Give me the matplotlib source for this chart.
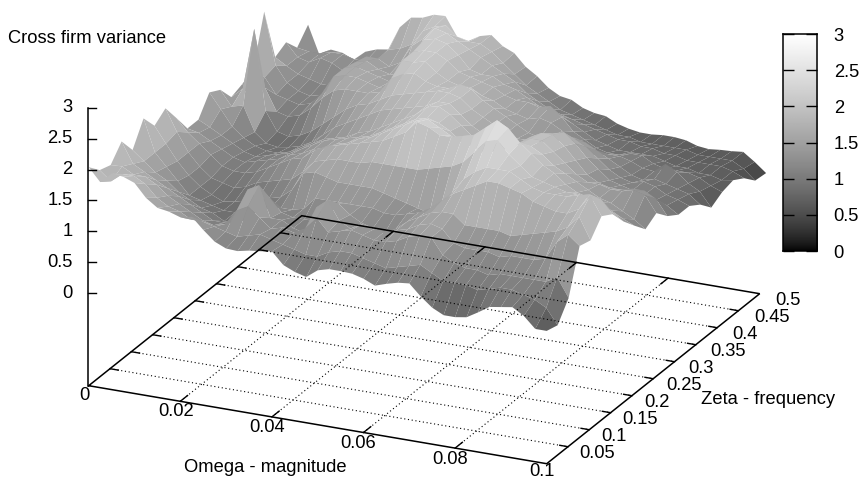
import numpy as np
import matplotlib
matplotlib.use("Agg")
import matplotlib.pyplot as plt
import matplotlib.colors as mcolors
from matplotlib.collections import PolyCollection

plt.rcParams['font.family'] = ['Liberation Sans', 'DejaVu Sans']

# z values: one list per zeta row (front to back), 41 omega samples each
r00 = [2.04,1.83,2.0,1.98,1.91,1.7,1.57,1.54,1.48,1.52,1.34,1.18,1.1,1.09,1.13,1.15,1.18,.99,.91,.86,1.0,1.05,1.05,1.04,.99,.91,.97,1.02,1.04,.86,.71,.62,.62,.65,.76,.88,.91,.94,.83,.65,.65]
r01 = [1.85,1.7,1.85,1.85,1.75,1.56,1.45,1.4,1.3,1.3,1.25,1.2,1.15,1.2,1.25,1.2,1.15,1.1,1.05,1.05,1.15,1.2,1.2,1.15,1.1,1.05,1.1,1.15,1.2,1.1,1.0,1.0,1.0,.95,1.0,1.05,1.05,1.0,.95,.85,.6]
r02 = [1.79,1.8,1.7,1.7,1.6,1.45,1.35,1.25,1.15,1.1,1.15,1.4,1.5,1.35,1.2,1.25,1.2,1.3,1.5,1.3,1.35,1.4,1.35,1.3,1.3,1.35,1.45,1.5,1.5,1.25,1.15,1.1,1.1,1.05,1.1,1.1,1.1,1.1,1.1,1.2,.9]
r03 = [2.03,1.7,1.6,1.5,1.4,1.3,1.2,1.1,1.0,1.0,1.05,1.6,1.7,1.2,1.2,1.1,1.05,1.5,1.65,1.35,1.25,1.35,1.3,1.3,1.35,1.4,1.5,1.55,1.5,1.3,1.25,1.25,1.25,1.2,1.25,1.25,1.25,1.3,1.6,1.75,1.6]
r04 = [1.75,1.6,1.45,1.35,1.2,1.1,1.0,.95,.85,.85,.95,1.3,1.35,1.15,1.1,1.1,1.1,1.2,1.45,1.3,1.2,1.15,1.1,1.2,1.35,1.45,1.55,1.6,1.6,1.45,1.45,1.45,1.45,1.4,1.45,1.5,1.55,1.6,1.7,1.9,1.55]
r05 = [2.12,1.6,1.4,1.2,1.0,.95,.9,.85,.85,.9,.95,1.0,1.05,1.05,1.1,1.3,1.3,1.3,1.3,1.3,1.3,1.25,1.25,1.3,1.35,1.45,1.6,1.75,1.85,1.95,2.05,2.05,2.0,1.95,1.85,1.8,1.75,1.75,1.85,2.1,1.8]
r06 = [1.86,1.6,1.35,1.15,1.0,.9,.82,.85,.9,.95,1.0,1.05,1.2,1.5,1.55,1.5,1.45,1.45,1.45,1.45,1.4,1.35,1.3,1.25,1.2,1.35,1.6,1.85,2.0,2.1,2.1,2.1,2.0,1.9,1.85,1.85,1.85,1.9,1.95,1.9,1.69]
r07 = [2.0,1.65,1.35,1.15,1.0,.95,.9,.95,1.05,1.1,1.15,1.2,1.35,1.55,1.6,1.65,1.65,1.65,1.7,1.7,1.7,1.7,1.7,1.75,1.8,1.85,1.95,2.15,2.35,2.4,2.2,2.05,1.9,1.85,1.8,1.75,1.75,1.7,1.65,1.55,1.43]
r08 = [1.7,1.5,1.35,1.2,1.05,1.0,1.0,1.05,1.15,1.25,1.35,1.4,1.55,1.65,1.7,1.75,1.8,1.85,1.9,2.0,2.1,2.3,2.25,2.15,2.15,2.2,2.25,2.4,2.55,2.45,2.25,2.1,1.95,1.85,1.7,1.6,1.55,1.5,1.4,1.3,1.22]
r09 = [1.39,1.35,1.25,1.15,1.05,1.0,1.05,1.1,1.15,1.25,1.3,1.4,1.45,1.55,1.6,1.7,1.75,1.85,1.95,2.05,2.15,2.2,2.1,2.0,1.95,1.95,1.95,2.0,2.05,2.05,2.05,1.95,1.8,1.7,1.6,1.5,1.4,1.35,1.25,1.15,1.02]
r10 = [1.39,1.3,1.2,1.1,1.0,.95,1.0,1.05,1.1,1.2,1.3,1.4,1.45,1.5,1.55,1.6,1.7,1.8,1.9,2.0,2.05,2.0,1.9,1.75,1.7,1.65,1.7,1.8,1.9,2.0,2.0,1.85,1.7,1.55,1.45,1.45,1.4,1.4,1.45,1.4,1.14]
r11 = [1.69,1.45,1.2,1.05,.95,.9,.9,.95,1.05,1.15,1.25,1.3,1.35,1.45,1.5,1.6,1.7,1.8,1.9,2.05,2.1,2.0,1.85,1.7,1.55,1.55,1.6,1.7,1.85,1.95,1.95,1.8,1.6,1.4,1.3,1.25,1.25,1.3,1.3,1.2,.95]
r12 = [1.59,1.35,1.4,1.0,.85,.82,.85,.9,1.0,1.15,1.3,1.4,1.5,1.6,1.7,1.75,1.8,1.85,1.9,2.0,2.0,1.85,1.7,1.6,1.55,1.55,1.55,1.6,1.7,1.8,1.85,1.7,1.5,1.35,1.2,1.15,1.1,1.05,1.0,.95,.83]
r13 = [1.33,1.5,2.5,1.2,.9,.85,.9,1.0,1.15,1.3,1.45,1.55,1.6,1.7,1.8,1.85,1.9,1.95,2.0,2.0,1.95,1.8,1.7,1.6,1.5,1.45,1.45,1.45,1.5,1.55,1.6,1.5,1.35,1.2,1.1,1.05,1.1,1.05,.95,.9,.83]
r14 = [1.4,1.2,1.4,1.05,1.0,1.05,1.2,1.4,1.55,1.6,1.6,1.6,1.65,1.9,2.0,2.05,1.95,1.9,1.9,2.0,1.95,1.8,1.7,1.6,1.5,1.4,1.35,1.4,1.45,1.45,1.4,1.3,1.2,1.1,1.0,.95,1.0,.95,.9,.85,.71]
r15 = [1.5,1.4,1.15,1.1,1.05,1.1,1.3,1.6,1.65,1.65,1.6,1.55,1.55,2.05,2.05,2.1,1.95,1.85,1.8,1.8,1.7,1.65,1.55,1.5,1.45,1.5,1.45,1.35,1.2,1.05,1.05,1.1,1.1,1.05,.97,.95,1.1,1.0,.85,.75,.52]
r16 = [2.29,1.45,1.2,1.1,1.05,1.1,1.3,1.6,1.65,1.6,1.55,1.5,1.6,2.05,2.1,2.1,2.0,1.85,1.8,1.75,1.7,1.6,1.55,1.55,1.5,1.55,1.4,1.2,1.1,1.0,.95,.95,1.0,1.0,.9,.85,.85,.85,.8,.7,.63]
r17 = [1.41,1.3,1.2,1.15,1.1,1.1,1.25,1.55,1.6,1.5,1.45,1.45,1.7,2.1,2.15,2.1,1.95,1.75,1.7,1.7,1.6,1.55,1.45,1.35,1.3,1.25,1.15,1.05,.95,.9,.85,.85,.85,.85,.8,.75,.75,.7,.7,.65,.68]
r18 = [1.51,1.3,1.25,1.35,1.3,1.2,1.2,1.5,1.5,1.4,1.5,1.8,1.95,2.15,2.1,2.0,1.9,1.8,1.7,1.6,1.5,1.35,1.25,1.15,1.1,1.05,1.0,.95,.9,.85,.85,.8,.8,.75,.75,.7,.7,.7,.7,.65,.57]
r19 = [1.28,1.25,1.25,1.3,1.3,1.25,1.25,1.3,1.5,1.55,1.65,1.9,2.0,2.05,1.9,1.85,1.85,1.75,1.6,1.45,1.3,1.2,1.1,1.0,.95,.9,.85,.8,.75,.75,.7,.7,.7,.7,.7,.65,.65,.65,.65,.55,.39]
r20 = [1.51,1.05,1.17,1.15,1.07,1.23,1.3,1.33,1.72,1.91,1.94,2.02,2.03,1.73,1.69,1.8,1.85,1.7,1.62,1.43,1.31,1.15,1.05,1.02,.92,.87,.85,.76,.71,.68,.68,.7,.7,.68,.62,.6,.62,.63,.65,.52,.37]

omega_step = 0.0025
zeta_step = 0.02575
omega_ticks = [0, 0.02, 0.04, 0.06, 0.08, 0.1]
zeta_ticks = [0, 0.05, 0.1, 0.15, 0.2, 0.25, 0.3, 0.35, 0.4, 0.45, 0.5]
z_ticks = [0, 0.5, 1, 1.5, 2, 2.5, 3]
FS = 13.2


def project(omega, zeta, z):
    w = np.asarray(omega) / 0.1
    n = np.asarray(zeta) / 0.5
    return 88.7 + 458 * w + 213 * n, 293 + 78 * w - 170 * n - 61.7 * np.asarray(z)


def base(omega, zeta):
    return project(omega, zeta, -92.7 / 61.7)


Z = np.array([r00, r01, r02, r03, r04, r05, r06, r07, r08, r09, r10,
              r11, r12, r13, r14, r15, r16, r17, r18, r19, r20])
rows, cols = Z.shape
omega = np.arange(cols) * omega_step
zeta = np.arange(rows) * zeta_step
O, S = np.meshgrid(omega, zeta)
X, Y = project(O, S, Z)

fig = plt.figure(figsize=(8.6, 4.79), dpi=100)
ax = fig.add_axes([0, 0, 1, 1])
ax.set_xlim(0, 860)
ax.set_ylim(479, 0)
ax.axis('off')

norm = mcolors.PowerNorm(gamma=1 / 1.5, vmin=0, vmax=3, clip=True)
cmap = plt.get_cmap('gray')

polys, vals, depth = [], [], []
for j in range(rows - 1):
    for i in range(cols - 1):
        polys.append([(X[j, i], Y[j, i]), (X[j, i + 1], Y[j, i + 1]),
                      (X[j + 1, i + 1], Y[j + 1, i + 1]), (X[j + 1, i], Y[j + 1, i])])
        vals.append(Z[j:j + 2, i:i + 2].mean())
        depth.append(78 * (i + .5) / (cols - 1) - 170 * (j + .5) / (rows - 1))
order = np.argsort(depth)
pc = PolyCollection([polys[k] for k in order], array=np.array(vals)[order],
                    cmap=cmap, norm=norm, edgecolors='none', linewidths=0,
                    antialiaseds=True, zorder=2)
ax.add_collection(pc)

# base plane
ls_dot = (0, (1, 2.4))
kw_grid = dict(color='black', lw=0.8, ls=ls_dot, zorder=3)
for o in omega_ticks[1:-1]:
    bx, by = base(np.array([o, o]), np.array([0, 0.5]))
    ax.plot(bx, by, **kw_grid)
for s in zeta_ticks[1:-1]:
    bx, by = base(np.array([0, 0.1]), np.array([s, s]))
    ax.plot(bx, by, **kw_grid)
cx, cy = base(np.array([0, 0.1, 0.1, 0, 0]), np.array([0, 0, 0.5, 0.5, 0]))
ax.plot(cx, cy, color='black', lw=1.1, zorder=4, solid_joinstyle='miter')

kw_tick = dict(color='black', lw=1.0, zorder=4)
for o in omega_ticks[1:-1]:
    bx, by = base(np.array([o, o]), np.array([0, 0.017]))
    ax.plot(bx, by, **kw_tick)
    bx, by = base(np.array([o, o]), np.array([0.5, 0.483]))
    ax.plot(bx, by, **kw_tick)
for s in zeta_ticks[1:-1]:
    bx, by = base(np.array([0, 0.0018]), np.array([s, s]))
    ax.plot(bx, by, **kw_tick)
    bx, by = base(np.array([0.1, 0.0982]), np.array([s, s]))
    ax.plot(bx, by, **kw_tick)

# vertical z axis
zx, zy = project(0, 0, np.array(z_ticks))
ax.plot([88, 88], [108, 385.7], color='black', lw=1.1, zorder=4)
for yy, t in zip(zy, z_ticks):
    ax.plot([88, 96], [yy, yy], **kw_tick)
    ax.text(72.5, yy, f'{t:g}', ha='right', va='center', fontsize=FS, color='black')

# tick labels
for o, c in zip(omega_ticks, [(84, 396), (176, 411), (267, 427), (358, 444), (450, 459), (542, 471)]):
    ax.text(c[0], c[1], f'{o:g}', ha='center', va='center', fontsize=FS, color='black')
for k, s in enumerate(zeta_ticks[1:]):
    bx, by = base(0.1, s)
    ax.text(bx + 11 + 0.55 * k, by + 7, f'{s:g}', ha='left', va='center', fontsize=FS, color='black')

ax.text(8, 38, 'Cross firm variance', ha='left', va='center', fontsize=FS, color='black')
ax.text(184, 468, 'Omega - magnitude', ha='left', va='center', fontsize=FS, color='black')
ax.text(701, 400, 'Zeta - frequency', ha='left', va='center', fontsize=FS, color='black')

# colour box with a linear value axis
W, H = 860.0, 479.0
cax = fig.add_axes([782.7 / W, 1 - 251 / H, (817 - 782.7) / W, (251 - 34) / H])
grad = np.linspace(0, 3, 256).reshape(-1, 1)
cax.imshow(grad, origin='lower', extent=[0, 1, 0, 3], aspect='auto', cmap=cmap, norm=norm)
cax.set_xticks([])
cax.yaxis.tick_right()
cax.set_yticks(z_ticks)
cax.set_yticklabels([f'{t:g}' for t in z_ticks])
cax.tick_params(axis='y', direction='in', left=True, right=True,
                length=8, width=1, labelsize=FS, pad=12)
for sp in cax.spines.values():
    sp.set_linewidth(1.1)

fig.savefig('out.png', dpi=100)
